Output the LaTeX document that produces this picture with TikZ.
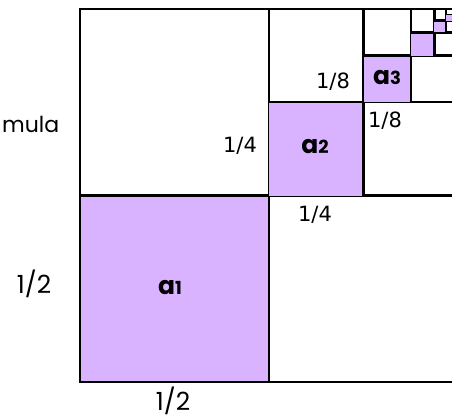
\documentclass[tikz,border=0pt]{standalone}
\usepackage{fontspec}
\setmainfont{Poppins}
\newfontfamily\verafont{DejaVu Sans}
\definecolor{lilac}{HTML}{D9B3FF}
\tikzset{
  grid line/.style={line width=2.4pt, black},
  frac/.style={font=\verafont\fontsize{21}{22}\selectfont, inner sep=0pt},
  big frac/.style={font=\fontsize{25}{26}\selectfont, inner sep=0pt, anchor=base},
  area/.style={font=\bfseries\fontsize{25}{26}\selectfont, inner sep=0pt}
}
\newcommand{\arealabel}[1]{a{\fontsize{18}{18}\selectfont #1}}

\begin{document}
\begin{tikzpicture}[x=1pt,y=-1pt]
\useasboundingbox (0,0) rectangle (452,418);

\begin{scope}
\clip (0,0) rectangle (452,418);
% each step: shaded lower left quarter, then go on in the upper right one
\foreach \k in {0,...,6}{
  \pgfmathsetmacro\w{378/2^\k}
  \pgfmathsetmacro\h{373/2^\k}
  \pgfmathsetmacro\xl{458-\w}
  \pgfmathsetmacro\xm{458-\w/2}
  \pgfmathsetmacro\ym{9+\h/2}
  \pgfmathsetmacro\yb{9+\h}
  \pgfmathsetmacro\lw{\k<5 ? 2.4 : 1.1}
  \fill[lilac] (\xl,\ym) rectangle (\xm,\yb);
  \draw[grid line, line width=\lw pt] (\xm,9) -- (\xm,\yb);
  \draw[grid line, line width=\lw pt] (\xl,\ym) -- (458,\ym);
}
\draw[grid line] (458,9) -- (80,9) -- (80,382) -- (458,382);
\end{scope}

\node[big frac, font=\fontsize{22}{24}\selectfont, anchor=base west] (mula) at (2,132) {mula};
\node[big frac] (halfleft) at (34,293) {1/2};
\node[big frac] (halfbottom) at (173,410) {1/2};

\node[frac] (quarterleft) at (240,146) {1/4};
\node[frac] (quarterbelow) at (315,215) {1/4};
\node[frac] (eighthleft) at (333,82) {1/8};
\node[frac] (eighthbelow) at (385,121) {1/8};

\node[area] (a1) at (170,288) {\arealabel{1}};
\node[area] (a2) at (315,147) {\arealabel{2}};
\node[area] (a3) at (387,78) {\arealabel{3}};

\end{tikzpicture}
\end{document}
